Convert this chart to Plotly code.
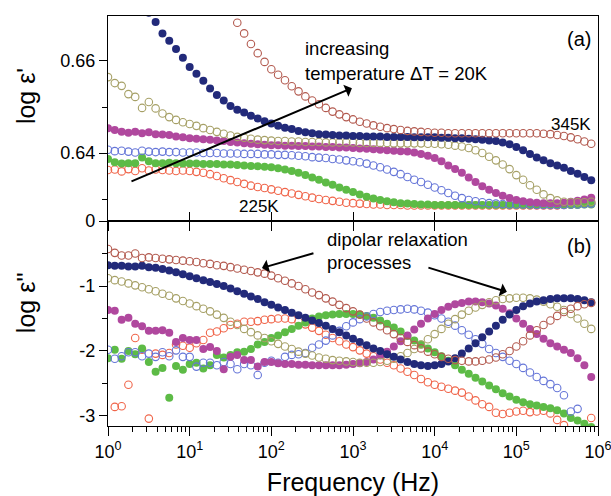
import plotly.graph_objects as go

# log10 of measuring frequency (Hz), 12 points per decade
LOG_FREQ = [0.000, 0.083, 0.167, 0.250, 0.333, 0.417, 0.500, 0.583, 0.667, 0.750, 0.833, 0.917,
            1.000, 1.083, 1.167, 1.250, 1.333, 1.417, 1.500, 1.583, 1.667, 1.750, 1.833, 1.917,
            2.000, 2.083, 2.167, 2.250, 2.333, 2.417, 2.500, 2.583, 2.667, 2.750, 2.833, 2.917,
            3.000, 3.083, 3.167, 3.250, 3.333, 3.417, 3.500, 3.583, 3.667, 3.750, 3.833, 3.917,
            4.000, 4.083, 4.167, 4.250, 4.333, 4.417, 4.500, 4.583, 4.667, 4.750, 4.833, 4.917,
            5.000, 5.083, 5.167, 5.250, 5.333, 5.417, 5.500, 5.583, 5.667, 5.750, 5.833, 5.917]
FREQ = [10 ** v for v in LOG_FREQ]

TEMPS = ["225K", "245K", "265K", "285K", "305K", "325K", "345K"]

# log eps' (panel a)
EPS1_225 = [0.6363, 0.6364, 0.6360, 0.6365, 0.6361, 0.6367, 0.6362, 0.6364, 0.6363, 0.6362, 0.6361, 0.6362,
            0.6361, 0.6359, 0.6357, 0.6354, 0.6350, 0.6345, 0.6341, 0.6337, 0.6333, 0.6329, 0.6326, 0.6324,
            0.6321, 0.6318, 0.6315, 0.6312, 0.6309, 0.6306, 0.6303, 0.6300, 0.6298, 0.6296, 0.6294, 0.6292,
            0.6291, 0.6290, 0.6289, 0.6288, 0.6288, 0.6287, 0.6287, 0.6287, 0.6286, 0.6286, 0.6286, 0.6286,
            0.6286, 0.6286, 0.6286, 0.6286, 0.6286, 0.6286, 0.6286, 0.6286, 0.6286, 0.6286, 0.6286, 0.6286,
            0.6286, 0.6286, 0.6286, 0.6286, 0.6286, 0.6286, 0.6286, 0.6287, 0.6288, 0.6289, 0.6290, 0.6291]
EPS1_245 = [0.6387, 0.6380, 0.6377, 0.6378, 0.6378, 0.6390, 0.6382, 0.6378, 0.6378, 0.6379, 0.6378, 0.6377,
            0.6377, 0.6377, 0.6376, 0.6376, 0.6376, 0.6375, 0.6375, 0.6374, 0.6373, 0.6372, 0.6371, 0.6370,
            0.6369, 0.6367, 0.6364, 0.6361, 0.6357, 0.6352, 0.6347, 0.6342, 0.6336, 0.6331, 0.6325, 0.6320,
            0.6315, 0.6310, 0.6305, 0.6301, 0.6298, 0.6295, 0.6293, 0.6291, 0.6290, 0.6289, 0.6288, 0.6288,
            0.6287, 0.6287, 0.6287, 0.6287, 0.6287, 0.6287, 0.6287, 0.6287, 0.6287, 0.6287, 0.6287, 0.6287,
            0.6287, 0.6287, 0.6287, 0.6287, 0.6287, 0.6287, 0.6287, 0.6287, 0.6287, 0.6287, 0.6288, 0.6288]
EPS1_265 = [0.6407, 0.6404, 0.6405, 0.6403, 0.6401, 0.6405, 0.6403, 0.6402, 0.6403, 0.6402, 0.6402, 0.6401,
            0.6401, 0.6401, 0.6400, 0.6400, 0.6400, 0.6399, 0.6399, 0.6399, 0.6398, 0.6398, 0.6398, 0.6397,
            0.6397, 0.6396, 0.6396, 0.6395, 0.6394, 0.6393, 0.6391, 0.6390, 0.6389, 0.6387, 0.6386, 0.6384,
            0.6382, 0.6380, 0.6377, 0.6373, 0.6369, 0.6364, 0.6359, 0.6354, 0.6348, 0.6342, 0.6337, 0.6331,
            0.6325, 0.6319, 0.6313, 0.6307, 0.6302, 0.6298, 0.6295, 0.6293, 0.6291, 0.6290, 0.6289, 0.6288,
            0.6288, 0.6288, 0.6288, 0.6287, 0.6287, 0.6287, 0.6287, 0.6287, 0.6288, 0.6288, 0.6289, 0.6290]
EPS1_285 = [0.6454, 0.6450, 0.6446, 0.6444, 0.6446, 0.6443, 0.6445, 0.6441, 0.6440, 0.6439, 0.6436, 0.6434,
            0.6432, 0.6431, 0.6430, 0.6429, 0.6427, 0.6426, 0.6424, 0.6423, 0.6421, 0.6420, 0.6419, 0.6418,
            0.6417, 0.6417, 0.6416, 0.6416, 0.6415, 0.6415, 0.6414, 0.6414, 0.6413, 0.6413, 0.6412, 0.6412,
            0.6411, 0.6410, 0.6409, 0.6408, 0.6407, 0.6406, 0.6405, 0.6404, 0.6403, 0.6401, 0.6398, 0.6394,
            0.6389, 0.6382, 0.6373, 0.6365, 0.6357, 0.6347, 0.6337, 0.6328, 0.6320, 0.6313, 0.6307, 0.6302,
            0.6298, 0.6295, 0.6293, 0.6292, 0.6291, 0.6291, 0.6291, 0.6292, 0.6294, 0.6296, 0.6299, 0.6303]
EPS1_305 = [0.6565, 0.6552, 0.6546, 0.6528, 0.6522, 0.6498, 0.6511, 0.6497, 0.6486, 0.6478, 0.6472, 0.6467,
            0.6463, 0.6459, 0.6454, 0.6450, 0.6446, 0.6442, 0.6438, 0.6435, 0.6433, 0.6431, 0.6429, 0.6428,
            0.6427, 0.6426, 0.6426, 0.6425, 0.6425, 0.6424, 0.6424, 0.6424, 0.6423, 0.6423, 0.6423, 0.6423,
            0.6423, 0.6422, 0.6422, 0.6422, 0.6422, 0.6422, 0.6421, 0.6421, 0.6421, 0.6421, 0.6421, 0.6420,
            0.6420, 0.6419, 0.6418, 0.6416, 0.6414, 0.6411, 0.6406, 0.6400, 0.6392, 0.6384, 0.6375, 0.6365,
            0.6352, 0.6342, 0.6330, 0.6320, 0.6310, 0.6302, 0.6297, 0.6294, 0.6293, 0.6293, 0.6293, 0.6294]
EPS1_325 = [None, None, None, None, None, None, 0.6705, 0.6685, 0.6660, 0.6644, 0.6626, 0.6607,
            0.6587, 0.6572, 0.6557, 0.6540, 0.6526, 0.6514, 0.6502, 0.6494, 0.6488, 0.6481, 0.6475, 0.6469,
            0.6464, 0.6459, 0.6455, 0.6452, 0.6448, 0.6445, 0.6443, 0.6441, 0.6440, 0.6439, 0.6438, 0.6438,
            0.6437, 0.6437, 0.6436, 0.6436, 0.6436, 0.6435, 0.6435, 0.6435, 0.6435, 0.6434, 0.6434, 0.6434,
            0.6434, 0.6433, 0.6433, 0.6432, 0.6432, 0.6431, 0.6430, 0.6429, 0.6427, 0.6426, 0.6423, 0.6419,
            0.6413, 0.6406, 0.6398, 0.6390, 0.6384, 0.6378, 0.6373, 0.6368, 0.6361, 0.6355, 0.6348, 0.6341]
EPS1_345 = [None, None, None, None, None, None, None, None, None, None, None, None,
            None, None, None, None, None, None, None, 0.6683, 0.6660, 0.6637, 0.6617, 0.6598,
            0.6582, 0.6570, 0.6558, 0.6545, 0.6534, 0.6523, 0.6514, 0.6506, 0.6498, 0.6490, 0.6484, 0.6478,
            0.6473, 0.6468, 0.6464, 0.6460, 0.6457, 0.6454, 0.6452, 0.6450, 0.6448, 0.6447, 0.6446, 0.6445,
            0.6444, 0.6444, 0.6443, 0.6443, 0.6443, 0.6443, 0.6443, 0.6443, 0.6443, 0.6443, 0.6443, 0.6443,
            0.6443, 0.6443, 0.6443, 0.6443, 0.6442, 0.6441, 0.6439, 0.6437, 0.6434, 0.6430, 0.6425, 0.6420]

# log eps'' (panel b)
EPS2_225 = [None, -2.86, -2.85, -2.52, -1.80, -1.98, -3.04, -2.04, -2.06, -2.03, -1.90, -1.92,
            -1.95, -1.88, -1.83, -1.72, -1.70, -1.65, -1.60, -1.58, -1.55, -1.55, -1.54, -1.52,
            -1.51, -1.50, -1.50, -1.51, -1.55, -1.59, -1.64, -1.69, -1.75, -1.80, -1.85, -1.90,
            -1.94, -1.99, -2.04, -2.08, -2.13, -2.18, -2.22, -2.27, -2.32, -2.37, -2.43, -2.48,
            -2.52, -2.55, -2.58, -2.61, -2.64, -2.70, -2.76, -2.82, -2.86, -2.95, -2.97, -2.95,
            -2.93, -2.92, -2.94, -2.93, -2.92, -2.96, -3.06, -3.14, None, None, None, -3.03]
EPS2_245 = [-2.11, -1.98, -2.12, -2.00, -2.05, -1.96, -2.17, -2.32, -2.26, -2.72, -2.23, -2.29,
            -2.20, -2.18, -2.27, -2.22, -2.06, -2.10, -2.06, -2.02, -2.01, -1.97, -1.90, -1.86,
            -1.80, -1.76, -1.71, -1.66, -1.61, -1.56, -1.50, -1.47, -1.45, -1.44, -1.43, -1.43,
            -1.43, -1.44, -1.46, -1.49, -1.53, -1.58, -1.64, -1.70, -1.77, -1.84, -1.90, -1.96,
            -2.02, -2.08, -2.15, -2.22, -2.29, -2.35, -2.41, -2.47, -2.53, -2.59, -2.65, -2.70,
            -2.75, -2.79, -2.82, -2.84, -2.86, -2.88, -2.91, -2.96, -3.03, -3.07, -3.12, -3.17]
EPS2_265 = [-1.98, -2.12, -2.08, -2.02, -2.02, -2.08, -2.04, -2.09, -2.02, -2.08, -1.99, -2.09,
            -2.09, -2.24, -2.18, -2.18, -2.22, -2.17, -2.20, -2.28, -2.20, -2.22, -2.37, -2.18,
            -2.15, -2.18, -2.09, -2.06, -2.05, -2.03, -1.95, -1.90, -1.84, -1.76, -1.69, -1.62,
            -1.56, -1.51, -1.47, -1.43, -1.40, -1.38, -1.37, -1.36, -1.35, -1.36, -1.38, -1.41,
            -1.45, -1.50, -1.55, -1.61, -1.68, -1.75, -1.82, -1.89, -1.97, -2.03, -2.09, -2.15,
            -2.20, -2.26, -2.33, -2.40, -2.46, -2.51, -2.57, -2.68, -2.93, -2.89, None, None]
EPS2_285 = [-1.37, -1.38, -1.52, -1.49, -1.58, -1.62, -1.69, -1.69, -1.68, -1.72, -1.86, -1.80,
            -1.83, -1.83, -1.97, -1.94, -2.00, -2.28, -2.09, -2.06, -2.14, -2.14, -2.24, -2.17,
            -2.17, -2.19, -2.20, -2.20, -2.21, -2.21, -2.22, -2.22, -2.22, -2.22, -2.22, -2.21,
            -2.20, -2.19, -2.17, -2.13, -2.07, -2.01, -1.93, -1.85, -1.76, -1.67, -1.58, -1.50,
            -1.43, -1.37, -1.32, -1.28, -1.26, -1.24, -1.24, -1.25, -1.27, -1.30, -1.35, -1.42,
            -1.50, -1.58, -1.66, -1.74, -1.81, -1.88, -1.93, -1.98, -2.03, -2.11, -2.22, -2.40]
EPS2_305 = [-0.88, -0.91, -0.93, -0.96, -0.99, -1.02, -1.05, -1.08, -1.12, -1.15, -1.19, -1.23,
            -1.27, -1.31, -1.35, -1.39, -1.44, -1.49, -1.55, -1.60, -1.66, -1.71, -1.76, -1.80,
            -1.85, -1.89, -1.93, -1.97, -2.01, -2.04, -2.07, -2.10, -2.12, -2.14, -2.15, -2.16,
            -2.17, -2.18, -2.18, -2.18, -2.17, -2.15, -2.12, -2.08, -2.03, -1.97, -1.90, -1.82,
            -1.74, -1.66, -1.58, -1.51, -1.44, -1.38, -1.33, -1.29, -1.25, -1.22, -1.20, -1.19,
            -1.18, -1.18, -1.19, -1.21, -1.24, -1.28, -1.32, -1.37, -1.43, -1.50, -1.58, -1.66]
EPS2_325 = [-0.68, -0.69, -0.69, -0.70, -0.70, -0.69, -0.71, -0.72, -0.74, -0.76, -0.79, -0.82,
            -0.85, -0.88, -0.91, -0.94, -0.97, -1.00, -1.04, -1.08, -1.12, -1.16, -1.20, -1.25,
            -1.29, -1.33, -1.37, -1.41, -1.45, -1.49, -1.53, -1.57, -1.61, -1.66, -1.71, -1.76,
            -1.81, -1.86, -1.91, -1.96, -2.00, -2.05, -2.09, -2.13, -2.17, -2.20, -2.22, -2.23,
            -2.22, -2.20, -2.16, -2.11, -2.04, -1.96, -1.88, -1.79, -1.70, -1.61, -1.52, -1.44,
            -1.37, -1.31, -1.27, -1.24, -1.22, -1.20, -1.19, -1.19, -1.19, -1.20, -1.22, -1.25]
EPS2_345 = [-0.43, -0.49, -0.53, -0.53, -0.50, -0.57, -0.56, -0.57, -0.58, -0.59, -0.60, -0.61,
            -0.62, -0.63, -0.65, -0.66, -0.68, -0.69, -0.71, -0.73, -0.75, -0.77, -0.79, -0.81,
            -0.84, -0.88, -0.92, -0.96, -1.00, -1.05, -1.10, -1.14, -1.19, -1.24, -1.29, -1.34,
            -1.39, -1.44, -1.50, -1.56, -1.62, -1.68, -1.74, -1.80, -1.86, -1.91, -1.96, -2.01,
            -2.05, -2.09, -2.12, -2.14, -2.15, -2.16, -2.16, -2.15, -2.13, -2.10, -2.05, -2.00,
            -1.93, -1.85, -1.76, -1.68, -1.60, -1.53, -1.46, -1.40, -1.35, -1.31, -1.28, -1.26]

EPS1 = [EPS1_225, EPS1_245, EPS1_265, EPS1_285, EPS1_305, EPS1_325, EPS1_345]
EPS2 = [EPS2_225, EPS2_245, EPS2_265, EPS2_285, EPS2_305, EPS2_325, EPS2_345]

COLORS = ["#f0654a", "#5dbb46", "#6676d8", "#b0489e", "#a6a066", "#222a7a", "#b35a4f"]
FILLED = [False, True, False, True, False, True, False]

# axis ticks
X_DECADES = [1, 10, 100, 1000, 10000, 100000, 1000000]
X_TICKTEXT = ["10<sup>0</sup>", "10<sup>1</sup>", "10<sup>2</sup>", "10<sup>3</sup>",
              "10<sup>4</sup>", "10<sup>5</sup>", "10<sup>6</sup>"]
X_MINOR = [m * d for d in X_DECADES[:-1] for m in range(2, 10)]
Y1_TICKS = [0.64, 0.66]
Y1_TICKTEXT = ["0.64", "0.66"]
Y1_MINOR = [0.63, 0.65]
Y1_RANGE = [0.62522, 0.66978]
Y2_TICKS = [0, -1, -2, -3]
Y2_TICKTEXT = ["0", "-1", "-2", "-3"]
Y2_MINOR = [-0.5, -1.5, -2.5]
Y2_RANGE = [-3.154, 0]

FONT = "Liberation Sans, Arial, Helvetica, sans-serif"

fig = go.Figure()

for i, t in enumerate(TEMPS):
    if FILLED[i]:
        mk = dict(symbol="circle", size=8, color=COLORS[i], line=dict(width=0))
    else:
        mk = dict(symbol="circle-open", size=7.5, color=COLORS[i], line=dict(width=1.1, color=COLORS[i]))
    fig.add_trace(go.Scatter(x=FREQ, y=EPS1[i], mode="markers", marker=mk, name=t,
                             xaxis="x", yaxis="y", showlegend=False, cliponaxis=True))
    fig.add_trace(go.Scatter(x=FREQ, y=EPS2[i], mode="markers", marker=mk, name=t,
                             xaxis="x2", yaxis="y2", showlegend=False, cliponaxis=True))

# helper trace for the upward ticks on the shared border
fig.add_trace(go.Scatter(x=[], y=[], xaxis="x3", yaxis="y", showlegend=False))

axis_common = dict(showline=True, linecolor="black", linewidth=1.3, showgrid=False,
                   zeroline=False, tickcolor="black", tickwidth=1.3, automargin=False,
                   tickfont=dict(family=FONT, size=18, color="black"))

fig.update_layout(
    width=611, height=496,
    margin=dict(l=108, r=13, t=16, b=70, autoexpand=False),
    paper_bgcolor="white", plot_bgcolor="white",
    showlegend=False,
    font=dict(family=FONT, color="black"),
    xaxis=dict(domain=[0, 1], anchor="y", type="log", range=[0, 6], mirror=True,
               ticks="outside", ticklen=9, tickmode="array", tickvals=X_DECADES,
               showticklabels=False, **axis_common),
    xaxis3=dict(overlaying="x", anchor="y", side="bottom", type="log", range=[0, 6],
                showline=False, showgrid=False, zeroline=False, ticks="inside", ticklen=9,
                tickcolor="black", tickwidth=1.3, tickmode="array", tickvals=X_DECADES,
                showticklabels=False, automargin=False),
    yaxis=dict(domain=[0.5, 1], anchor="x", range=Y1_RANGE, mirror=True,
               ticks="outside", ticklen=8, tickmode="array", tickvals=Y1_TICKS,
               ticktext=Y1_TICKTEXT,
               minor=dict(tickmode="array", tickvals=Y1_MINOR, ticks="outside", ticklen=5,
                          tickcolor="black", tickwidth=1.3, showgrid=False),
               **axis_common),
    xaxis2=dict(domain=[0, 1], anchor="y2", type="log", range=[0, 6], mirror=True,
                ticks="outside", ticklen=9, tickmode="array", tickvals=X_DECADES,
                ticktext=X_TICKTEXT, ticklabeloverflow="allow",
                minor=dict(tickmode="array", tickvals=X_MINOR, ticks="outside", ticklen=5,
                           tickcolor="black", tickwidth=1.3, showgrid=False),
                title=dict(text="Frequency (Hz)", font=dict(family=FONT, size=25, color="black"),
                           standoff=13),
                **axis_common),
    yaxis2=dict(domain=[0, 0.5], anchor="x2", range=Y2_RANGE, mirror=True,
                ticks="outside", ticklen=8, tickmode="array", tickvals=Y2_TICKS,
                ticktext=Y2_TICKTEXT,
                minor=dict(tickmode="array", tickvals=Y2_MINOR, ticks="outside", ticklen=5,
                           tickcolor="black", tickwidth=1.3, showgrid=False),
                **axis_common),
)

txt = dict(family=FONT, size=18.5, color="black")
ann = [
    # y-axis titles
    dict(text="log ε'", xref="paper", yref="paper", x=-0.167, y=0.805, textangle=-90,
         showarrow=False, font=dict(family=FONT, size=25, color="black"),
         xanchor="center", yanchor="middle"),
    dict(text="log ε''", xref="paper", yref="paper", x=-0.167, y=0.30, textangle=-90,
         showarrow=False, font=dict(family=FONT, size=25, color="black"),
         xanchor="center", yanchor="middle"),
    # panel (a) texts
    dict(text="increasing", xref="paper", yref="paper", x=0.398, y=0.920,
         xanchor="left", yanchor="middle", showarrow=False, font=txt),
    dict(text="temperature ΔT = 20K", xref="paper", yref="paper", x=0.398, y=0.859,
         xanchor="left", yanchor="middle", showarrow=False, font=txt),
    dict(text="(a)", xref="paper", yref="paper", x=0.9898, y=0.944,
         xanchor="right", yanchor="middle", showarrow=False,
         font=dict(family=FONT, size=20, color="black")),
    dict(text="345K", xref="paper", yref="paper", x=0.9898, y=0.736,
         xanchor="right", yanchor="middle", showarrow=False,
         font=dict(family=FONT, size=17, color="black")),
    dict(text="225K", xref="paper", yref="paper", x=0.2633, y=0.536,
         xanchor="left", yanchor="middle", showarrow=False,
         font=dict(family=FONT, size=17, color="black")),
    # panel (b) texts
    dict(text="dipolar relaxation", xref="paper", yref="paper", x=0.4429, y=0.455,
         xanchor="left", yanchor="middle", showarrow=False, font=txt),
    dict(text="processes", xref="paper", yref="paper", x=0.4429, y=0.399,
         xanchor="left", yanchor="middle", showarrow=False, font=txt),
    dict(text="(b)", xref="paper", yref="paper", x=0.9898, y=0.438,
         xanchor="right", yanchor="middle", showarrow=False,
         font=dict(family=FONT, size=20, color="black")),
    # arrows
    dict(text="", xref="x", yref="y", x=2.987, y=0.6541, axref="x", ayref="y",
         ax=0.269, ay=0.6337, showarrow=True, arrowhead=1, arrowsize=1.1,
         arrowwidth=2, arrowcolor="black", standoff=0),
    dict(text="", xref="x2", yref="y2", x=1.885, y=-0.723, axref="x2", ayref="y2",
         ax=2.534, ay=-0.49, showarrow=True, arrowhead=1, arrowsize=1.1,
         arrowwidth=2, arrowcolor="black", standoff=0),
    dict(text="", xref="x2", yref="y2", x=4.884, y=-1.09, axref="x2", ayref="y2",
         ax=3.905, ay=-0.71, showarrow=True, arrowhead=1, arrowsize=1.1,
         arrowwidth=2, arrowcolor="black", standoff=0),
]
fig.update_layout(annotations=ann)

fig.write_html("out.html")
